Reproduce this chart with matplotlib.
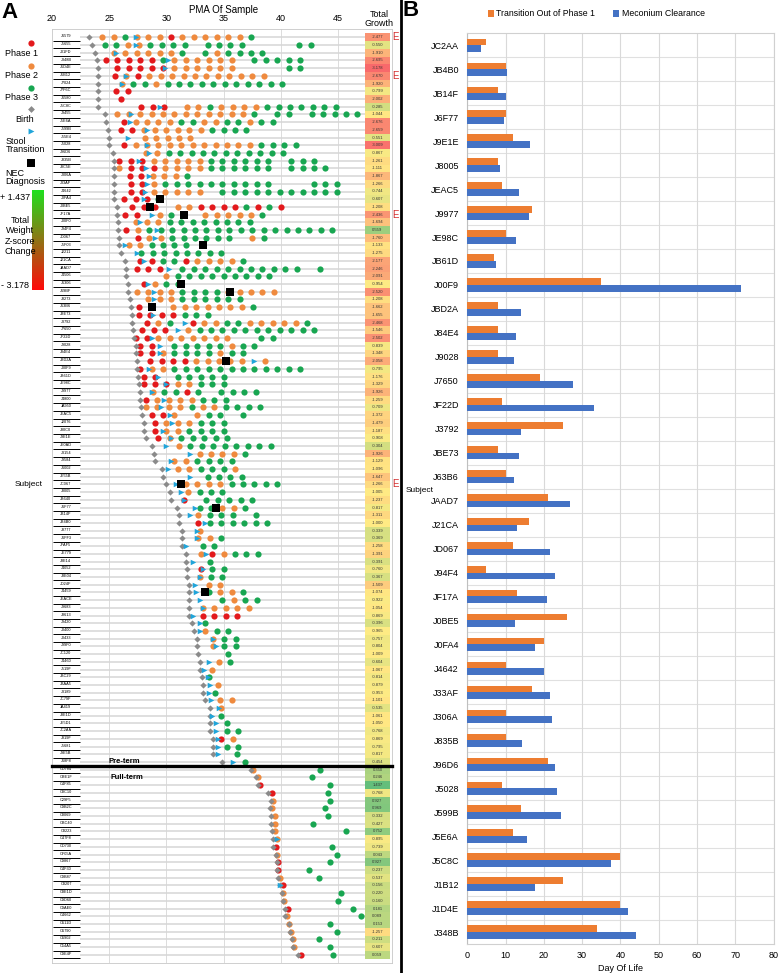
import numpy as np
import matplotlib
matplotlib.use("Agg")
import matplotlib.pyplot as plt
from matplotlib.patches import Rectangle

plt.rcParams['font.family'] = ['Liberation Sans', 'DejaVu Sans']
NaN = np.nan

# ---------------- Panel A data (pre-term) ----------------
pt_labels = ["J6579","J5655","J01FD","J348B","J1D4E","J1B12","J7024","J7F6C","J6580","J5C8C",
             "J9455","J5E6A","J599B","J55E4","J5028","J96D6","J835B","J8C5E","J306A","J33AF",
             "J4642","J0FA4","J0BE5","JF17A","J00F0","J94F4","JD067","J5F03","J2211","J21CA",
             "JAAD7","J4506","J6306","J69BF","J8273","J63B6","JBE73","J3792","J7650","JF22D",
             "J9028","J84E4","JBD2A","J00F9","JB61D","JE98C","J9977","J4800","JA950","JEAC5",
             "J2076","J80C0","J9E1E","JE0AD","J3154","J9584","J6002","JE55B","JC067","J8005",
             "JB640","J6F77","JB14F","JB4B0","J8777","J6FF3","JFAF5","JE779","J8E14","J4052",
             "J8E04","JD24F","J4459","JEACE","J9683","J8613","J9420","J0400","J0433","J99F0",
             "JC120","J4460","J519F","JBC29","JBAA5","J3189","JC79F","JA419","J8E1D","JE5D1",
             "JC2AA","J819F","J5681","J9E5B","J68F8"]

pt_birth = [23.2, 23.5, 23.8, 23.9, 24.0, 24.0, 24.0, 24.0, 24.0, 24.0,
            24.6, 24.7, 24.9, 25.0, 25.0, 25.3, 25.45, 25.45, 25.45, 25.45,
            25.45, 25.45, 25.7, 25.7, 25.8, 25.8, 25.9, 25.9, 26.0, 26.4,
            26.5, 26.5, 26.6, 26.6, 26.8, 26.9, 27.0, 27.0, 27.1, 27.2,
            27.3, 27.3, 27.4, 27.4, 27.5, 27.6, 27.7, 27.7, 27.8, 27.9,
            28.0, 28.0, 28.2, 28.7, 28.9, 29.0, 29.6, 29.7, 30.0, 30.3,
            30.4, 30.9, 31.1, 31.1, 31.4, 31.4, 31.4, 31.7, 31.7, 31.8,
            31.8, 32.0, 32.0, 32.0, 32.0, 32.0, 32.2, 32.4, 32.65, 32.65,
            32.8, 32.9, 32.9, 33.1, 33.2, 33.2, 33.4, 33.8, 33.8, 33.8,
            33.8, 34.1, 34.1, 34.1, 34.9]

# PMA of the first weekly sample of each subject
pt_start = [24.4, 24.6, 25.4, 24.7, 25.7, 25.5, 26.1, 25.6, 26.0, 27.8,
            25.7, 26.3, 26.0, 28.1, 26.3, 28.2, 25.9, 25.9, 26.8, 26.9,
            26.9, 26.3, 27.0, 26.4, 27.3, 26.5, 27.5, 26.7, 27.8, 27.7,
            27.4, 30.0, 28.0, 27.4, 28.4, 27.6, 27.6, 28.3, 27.9, 27.3,
            27.7, 27.7, 28.6, 27.7, 28.0, 28.0, 28.8, 28.2, 28.2, 28.7,
            29.0, 29.0, 29.3, 31.1, 32.9, 30.7, 31.0, 33.6, 31.7, 31.9,
            31.5, 32.9, 32.8, 32.8, 32.9, 32.8, 33.2, 33.0, 33.8, 33.0,
            32.9, 33.7, 33.7, 34.9, 33.2, 33.2, 33.4, 33.4, 34.05, 34.05,
            35.4, 34.6, 34.0, 33.7, 34.5, 34.25, 34.7, 34.8, 34.8, 35.3,
            35.3, 34.8, 35.3, 36.2, 36.9]

# phase of each weekly sample (1/2/3, '.' = no sample)
pt_codes = ["22322212222223", "33223333.3333....33", "2222223.323333", "111113222222.33333",
            "11111222222....33", "12122222222222", "233233333333333", "11", "1",
            "111.22322223333333", "2222222222223.33.33333", "12222332233233", "112222223333",
            "22222", "1222222222223333", "2233333333333", "11122222333333.333",
            "21112222333333.3333", "112223", "1123333333333...333", "1122222.33333333333",
            "1113", "111.2211113131", "11.23..222223", "22233333333", "1233333333333333333",
            "122333333.23", "223333", "33333333", "1133122223", "111.33333333333.3",
            "2333333333", "1233", "2222333322222", "222333333", "1..22222223", "1111333",
            "123.12233222223", "111.233333333333", "112222222..33", "11.33333233",
            "1123333233", "111122222.2", "122333333333333", "11.33333", "11122333",
            "23313.3333", "12222333", "22223223333", "112.233.3", "1222333", "1223333",
            "1233333", "233333333", "22223", "223333", "223332", "3333", "222233333", "2333",
            "1.33333", "33223", "2333.3", "1333333", "2", "223", "33", "212333", "3", "133",
            "233", "22", "3223", "3233", "22222", "1111", "3", "233", "233", "233",
            "3", "23", "2", "3", "2", "3", "22", "2", "3", "3",
            "33", "12", "33", "3", "3"]

pt_stool = [27.3, 27.3, 25.6, 30.1, 29.9, 26.5, 26.1, NaN, NaN, 29.4,
            26.9, 26.8, 28.3, 26.6, 28.3, 28.5, 27.6, 28.2, 28.5, 28.3,
            28.1, 28.0, NaN, 28.7, 27.7, 29.2, 29.0, 26.4, 27.4, 28.0,
            30.2, NaN, 28.4, 28.9, 28.9, NaN, 28.8, 31.6, 31.0, 28.7,
            29.4, 29.4, 37.7, 28.5, 29.3, 30.0, 28.7, 29.8, 29.5, 30.3,
            30.5, 29.7, 30.4, 30.0, 32.1, 30.4, 30.1, 32.1, 30.8, 31.3,
            31.5, 32.5, 32.1, 33.4, 32.7, 32.7, 31.7, 33.5, 32.3, 33.2,
            32.9, 32.5, 32.6, 32.9, 33.2, 32.3, 32.9, 32.9, 34.05, 34.3,
            NaN, 33.7, 33.3, 33.6, 33.8, 33.7, 33.9, 34.6, 34.0, 34.3,
            34.3, 34.5, 34.5, 34.5, 35.85]

nec_rows = [22, 23, 24, 28, 33, 34, 36, 43, 59, 62, 73]
nec_pma = [29.4, 28.6, 31.5, 33.2, 31.25, 35.6, 28.7, 35.2, 31.25, 34.3, 33.4]

pt_growth = [-2.477, -0.550, -1.910, -2.695, -3.178, -2.670, -1.920, -0.799, -2.002, -0.285,
             -1.044, -2.676, -2.659, -0.551, -3.009, -0.867, -1.261, -1.111, -1.867, -1.266,
             -0.744, -0.607, -1.208, -2.436, -1.694, 0.559, -1.760, -1.133, -1.275, -2.177,
             -2.246, -2.091, -0.954, -2.520, -1.208, -1.662, -1.655, -2.468, -1.546, -2.502,
             -0.839, -1.348, -2.058, -0.795, -1.176, -1.329, -1.926, -1.259, -0.709, -1.372,
             -1.479, -1.187, -0.908, -0.304, -1.926, -1.129, -1.096, -1.647, -1.266, -1.005,
             -1.237, -0.817, -1.311, -1.000, -0.339, -0.369, -1.258, -1.391, -0.391, -0.760,
             -0.367, -1.509, -1.074, -0.922, -1.054, -0.869, -0.396, -0.965, -0.757, -0.804,
             -1.009, -0.604, -1.067, -0.814, -0.879, -0.953, -1.101, -0.535, -1.061, -1.050,
             -0.768, -0.869, -0.795, -0.817, -0.454]

e_rows = [1, 6, 24, 59]

# ---------------- Panel A data (full-term) ----------------
ft_labels = ["CD784","CBE1F","C4F85","C8C10","C29F5","C9B2C","C8069","CBC40","C8223","C47F8",
             "CD730","CF05A","C9867","C4F30","C9B87","C8207","C8E1D","C9D60","C9AE0","C4662",
             "C611D","C6790","C6902","C54A5","C9E4F"]
ft_birth = [37.37, 37.84, 38.04, 38.9, 39.1, 39.06, 39.1, 39.15, 39.2, 39.3,
            39.3, 39.6, 39.64, 39.64, 39.79, 39.9, 40.08, 40.2, 40.4, 40.4,
            40.7, 40.8, 40.95, 41.05, 41.5]
ft_first = [37.6, 38.04, 38.2, 39.2, 39.35, 39.2, 39.47, 39.47, 39.5, 39.64,
            39.6, 39.7, 39.79, 39.79, 39.9, 40.2, 40.2, 40.3, 40.6, 40.5,
            40.75, 40.87, 41.04, 41.15, 41.77]
ft_first_phase = [2, 2, 1, 1, 2, 2, 2, 2, 2, 2, 1, 2, 1, 1, 2, 1, 2, 2, 1, 2, 2, 2, 2, 2, 1]
ft_green = [43.46, 42.73, 44.28, 44.13, 44.3, 43.87, 44.13, 42.85, 45.73, NaN,
            44.45, 44.9, 44.28, 42.47, 43.3, NaN, 45.26, 45.0, 46.3, 47.0,
            44.28, 44.9, 43.3, 44.28, 44.57]
ft_stool = [NaN]*9 + [39.64] + [NaN]*5 + [39.95] + [NaN]*9
ft_growth = [0.350, 0.246, 1.437, -0.768, 0.927, 0.969, -0.332, -0.427, 0.752, -0.895,
             -0.739, 0.043, 0.927, -0.237, -0.537, -0.156, -0.220, -0.160, 0.181, 0.089,
             0.153, -1.257, -0.211, -0.607, 0.059]

# ---------------- Panel B data ----------------
b_subjects = ["JC2AA","JB4B0","JB14F","J6F77","J9E1E","J8005","JEAC5","J9977","JE98C","JB61D",
              "J00F9","JBD2A","J84E4","J9028","J7650","JF22D","J3792","JBE73","J63B6","JAAD7",
              "J21CA","JD067","J94F4","JF17A","J0BE5","J0FA4","J4642","J33AF","J306A","J835B",
              "J96D6","J5028","J599B","J5E6A","J5C8C","J1B12","J1D4E","J348B"]
b_transition = [5, 10, 8, 10, 12, 8, 9, 17, 10, 7,
                35, 8, 8, 8, 19, 9, 25, 8, 10, 21,
                16, 12, 5, 13, 26, 20, 10, 17, 10, 10,
                21, 9, 14, 12, 40, 25, 40, 34]
b_meconium = [3.6, 10.3, 10.2, 9.5, 16.3, 8.5, 13.6, 16.1, 12.6, 7.5,
              71.5, 14.1, 12.6, 12.3, 27.6, 33.0, 13.9, 13.6, 12.3, 26.8,
              13.0, 21.5, 23.0, 20.7, 12.4, 17.6, 20.0, 21.7, 22.1, 14.2,
              22.8, 23.5, 24.5, 15.6, 37.6, 17.6, 42.0, 44.2]

# ---------------- styling ----------------
W, H = 778, 973
C1, C2, C3 = '#E3191C', '#EF8A3E', '#18A651'
C_BIRTH, C_STOOL = '#8A8A8A', '#20A5DA'
ORANGE_B, BLUE_B = '#ED7D31', '#4472C4'

fig = plt.figure(figsize=(W / 100, H / 100), dpi=100)

PXW = 11.44
def px2pma(px):
    return 20 + (px - 52) / PXW

ROW0, ROWSTEP = 37.3, 7.71
n_pt, n_ft = len(pt_labels), len(ft_labels)
n_all = n_pt + n_ft

axA = fig.add_axes([52 / W, 1 - 963 / H, 340 / W, 934 / H])
xmax = px2pma(392)
axA.set_xlim(20, xmax)
axA.set_ylim((963 - ROW0) / ROWSTEP, (29 - ROW0) / ROWSTEP)

gx0, gx1 = px2pma(365), px2pma(390)
rows = np.arange(n_all)
axA.hlines(rows, px2pma(80), gx0, color='#D6D6D6', lw=1.1, zorder=1)
for v in [25, 30, 35, 40, 45]:
    axA.axvline(v, color='#DCDCDC', lw=0.7, zorder=0.5)

all_labels = pt_labels + ft_labels
for r, lab in enumerate(all_labels):
    axA.text(px2pma(66), r - 0.12, lab, fontsize=2.8, ha='center', va='center', zorder=3)
axA.hlines(rows + 0.45, 20.1, px2pma(80), color='black', lw=0.7, zorder=3)

# samples
pts = {'1': ([], []), '2': ([], []), '3': ([], [])}
for r in range(n_pt):
    for k, c in enumerate(pt_codes[r]):
        if c in pts:
            pts[c][0].append(pt_start[r] + k)
            pts[c][1].append(r)
for r in range(n_ft):
    ph = str(ft_first_phase[r])
    pts[ph][0].append(ft_first[r]); pts[ph][1].append(n_pt + r)
    if not np.isnan(ft_green[r]):
        pts['3'][0].append(ft_green[r]); pts['3'][1].append(n_pt + r)

for key, col in [('2', C2), ('3', C3), ('1', C1)]:
    axA.scatter(pts[key][0], pts[key][1], s=20, color=col, linewidths=0, zorder=4)

birth_all = pt_birth + ft_birth
axA.scatter(birth_all, rows, s=10, marker='D', color=C_BIRTH, linewidths=0, zorder=5)
stool_all = np.array(pt_stool + ft_stool)
axA.scatter(stool_all, rows, s=16, marker='>', color=C_STOOL, linewidths=0, zorder=6)
axA.scatter(nec_pma, np.array(nec_rows) - 1, s=26, marker='s', color='black', linewidths=0, zorder=7)

# separator
axA.plot([20, xmax], [n_pt - 0.5, n_pt - 0.5], color='black', lw=2.4, zorder=8, clip_on=False)
axA.text(px2pma(124), n_pt - 1.05, 'Pre-term', fontsize=5.5, fontweight='bold', ha='center', va='center', zorder=9)
axA.text(px2pma(127), n_pt + 1.05, 'Full-term', fontsize=5.5, fontweight='bold', ha='center', va='center', zorder=9)

# growth column
growth_all = np.array(pt_growth + ft_growth)
gmin, gmax = growth_all.min(), growth_all.max()
gmid = np.percentile(growth_all, 50)
c_red, c_yel, c_grn = np.array([248, 105, 107]) / 255, np.array([255, 235, 132]) / 255, np.array([99, 190, 123]) / 255
def gcol(v):
    if v <= gmid:
        t = (v - gmin) / (gmid - gmin)
        return (1 - t) * c_red + t * c_yel
    t = (v - gmid) / (gmax - gmid)
    return (1 - t) * c_yel + t * c_grn
for r, v in enumerate(growth_all):
    axA.add_patch(Rectangle((gx0, r - 0.5), gx1 - gx0, 1, facecolor=gcol(v), edgecolor='none', zorder=2))
    axA.text((gx0 + gx1) / 2, r, f"{v:.3f}", fontsize=3.0, ha='center', va='center', zorder=3, color='#333333')
for r in e_rows:
    axA.text(px2pma(392.5), r - 1, 'E', fontsize=7, color='#D22B2B', ha='left', va='center', clip_on=False)

axA.xaxis.tick_top()
axA.set_xticks([20, 25, 30, 35, 40, 45])
axA.tick_params(axis='x', length=0, labelsize=6.5, pad=4)
axA.set_yticks([])
for s in axA.spines.values():
    s.set_color('#C8C8C8'); s.set_linewidth(0.6)

# ---------------- overlay (legend, titles) ----------------
axO = fig.add_axes([0, 0, 1, 1], zorder=10)
axO.set_xlim(0, W); axO.set_ylim(H, 0); axO.axis('off')
axO.text(10, 12, 'A', fontsize=16, fontweight='bold', ha='center', va='center')
axO.text(411, 11, 'B', fontsize=16, fontweight='bold', ha='center', va='center')
axO.text(224, 10, 'PMA Of Sample', fontsize=7, ha='center', va='center')
axO.text(379, 19, 'Total\nGrowth', fontsize=6.5, ha='center', va='center', linespacing=1.1)
axO.text(29, 484, 'Subject', fontsize=6, ha='center', va='center')
axO.plot([401, 401], [0, H], color='black', lw=2)

axO.scatter([31], [43], s=20, color=C1, linewidths=0)
axO.text(22, 53, 'Phase 1', fontsize=6.5, ha='center', va='center')
axO.scatter([31], [66], s=20, color=C2, linewidths=0)
axO.text(22, 75, 'Phase 2', fontsize=6.5, ha='center', va='center')
axO.scatter([31], [88], s=20, color=C3, linewidths=0)
axO.text(22, 98, 'Phase 3', fontsize=6.5, ha='center', va='center')
axO.scatter([31], [109], s=12, marker='D', color=C_BIRTH, linewidths=0)
axO.text(25, 120, 'Birth', fontsize=6.5, ha='center', va='center')
axO.scatter([31], [131], s=18, marker='>', color=C_STOOL, linewidths=0)
axO.text(6, 141, 'Stool', fontsize=6.5, ha='left', va='center')
axO.text(6, 149, 'Transition', fontsize=6.5, ha='left', va='center')
axO.scatter([31], [163], s=28, marker='s', color='black', linewidths=0)
axO.text(5, 173, 'NEC', fontsize=6.5, ha='left', va='center')
axO.text(5, 181, 'Diagnosis', fontsize=6.5, ha='left', va='center')

grad = np.linspace(0, 1, 200)[:, None]
from matplotlib.colors import LinearSegmentedColormap
cb_cmap = LinearSegmentedColormap.from_list('cb', ['#1FE01F', '#FF0A0A'])
axO.imshow(grad, cmap=cb_cmap, extent=(32, 44, 290, 190), aspect='auto', zorder=1)
axO.text(15, 197, '+ 1.437', fontsize=6.5, ha='center', va='center')
axO.text(20, 236, 'Total\nWeight\nZ-score\nChange', fontsize=6.5, ha='center', va='center',
         linespacing=1.15, zorder=3)
axO.text(15, 285, '- 3.178', fontsize=6.5, ha='center', va='center')

# ---------------- Panel B ----------------
axB = fig.add_axes([467.3 / W, 1 - 944 / H, (773.5 - 467.3) / W, (944 - 33.3) / H])
yb = np.arange(len(b_subjects))
axB.barh(yb - 0.14, b_transition, height=0.28, color=ORANGE_B, label='Transition Out of Phase 1', zorder=3)
axB.barh(yb + 0.14, b_meconium, height=0.28, color=BLUE_B, label='Meconium Clearance', zorder=3)
axB.set_xlim(0, 80)
axB.set_ylim(len(b_subjects) - 0.5, -0.5)
axB.set_xticks(np.arange(0, 81, 10))
axB.set_yticks(yb)
axB.set_yticklabels(b_subjects)
axB.tick_params(axis='y', length=0, labelsize=6.5, pad=6)
axB.tick_params(axis='x', length=0, labelsize=6.5, pad=5)
axB.grid(axis='x', color='#D9D9D9', lw=0.8, zorder=0)
for yv in yb[:-1] + 0.5:
    axB.axhline(yv, color='#E0E0E0', lw=0.8, zorder=0)
for s in axB.spines.values():
    s.set_color('#D0D0D0'); s.set_linewidth(0.8)
axB.spines['left'].set_color('#BFBFBF')
axB.set_xlabel('Day Of Life', fontsize=6.5, labelpad=3)
axO.text(420, 490, 'Subject', fontsize=6, ha='center', va='center')
fig.legend(loc='center', bbox_to_anchor=(596 / W, 1 - 14 / H), ncol=2, frameon=False, fontsize=6.3,
           handlelength=0.7, handleheight=0.7, handletextpad=0.3, columnspacing=2.0)

fig.savefig('out.png', dpi=100)
